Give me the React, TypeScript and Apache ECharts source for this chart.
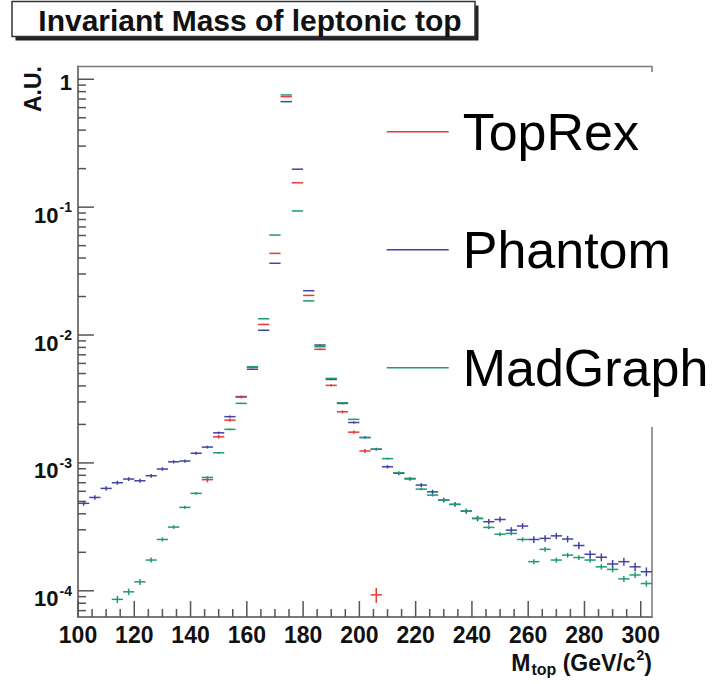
import React, { useEffect, useRef } from "react";
import * as echarts from "echarts";

// ---- data ----
const binCenters = [
  102, 106, 110, 114, 118, 122, 126, 130, 134, 138, 142, 146, 150, 154, 158, 162, 166,
  170, 174, 178, 182, 186, 190, 194, 198, 202, 206, 210, 214, 218, 222, 226, 230, 234,
  238, 242, 246, 250, 254, 258, 262, 266, 270, 274, 278, 282, 286, 290, 294, 298, 302,
];

const topRex: (number | null)[] = [
  null, null, null, null, null, null, null, null, null, null, null,
  7.4e-4, 1.6e-3, 2.16e-3, 3.27e-3, 5.6e-3, 1.21e-2, 4.35e-2, 0.731, 0.155,
  2.04e-2, 7.73e-3, 4.04e-3, 2.51e-3, 1.74e-3, 1.24e-3, 9.3e-5,
  null, null, null, null, null, null, null, null, null, null, null, null,
  null, null, null, null, null, null, null, null, null, null, null, null,
];

const phantom: (number | null)[] = [
  4.83e-4, 5.37e-4, 6.32e-4, 7.0e-4, 7.48e-4, 7.25e-4, 7.94e-4, 8.96e-4, 1.02e-3, 1.035e-3,
  1.19e-3, 1.33e-3, 1.72e-3, 2.3e-3, 3.3e-3, 5.4e-3, 1.09e-2, 3.64e-2, 0.668, 0.198,
  2.22e-2, 8.35e-3, 4.5e-3, 2.92e-3, 2.07e-3, 1.58e-3, 1.28e-3, 9.33e-4, 8.3e-4, 7.5e-4,
  6.71e-4, 5.94e-4, 5.12e-4, 4.74e-4, 4.2e-4, 3.68e-4, 3.47e-4, 3.61e-4, 2.98e-4, 3.21e-4,
  2.52e-4, 2.57e-4, 2.69e-4, 2.54e-4, 2.26e-4, 1.93e-4, 1.83e-4, 1.62e-4, 1.69e-4, 1.54e-4,
  1.41e-4,
];

const madGraph: (number | null)[] = [
  null, null, null, 8.57e-5, 9.82e-5, 1.175e-4, 1.74e-4, 2.52e-4, 3.15e-4, 4.49e-4,
  5.78e-4, 7.7e-4, 1.2e-3, 1.83e-3, 2.92e-3, 5.65e-3, 1.34e-2, 6.05e-2, 0.754, 9.33e-2,
  1.85e-2, 8.1e-3, 4.58e-3, 2.95e-3, 2.19e-3, 1.58e-3, 1.28e-3, 1.08e-3, 8.37e-4, 7.57e-4,
  6.24e-4, 5.6e-4, 5.12e-4, 4.74e-4, 4.2e-4, 3.68e-4, 3.13e-4, 2.77e-4, 2.81e-4, 2.52e-4,
  1.69e-4, 2.11e-4, 1.74e-4, 1.9e-4, 1.82e-4, 1.74e-4, 1.54e-4, 1.47e-4, 1.24e-4, 1.33e-4,
  1.14e-4,
];

const xTickLabels = [100, 120, 140, 160, 180, 200, 220, 240, 260, 280, 300];
const yDecades = [1e-4, 1e-3, 1e-2, 1e-1, 1];
const seriesNames = ["TopRex", "Phantom", "MadGraph"];

// ---- styling constants ----
const FONT = "'Liberation Sans', Arial, Helvetica, sans-serif";
const X_MIN = 100;
const X_MAX = 304;
const Y_MIN = 6.24e-5;
const Y_MAX = 1.258;
const BIN_HALF = 2;
const COLORS = { TopRex: "#e63b3b", Phantom: "#4343a6", MadGraph: "#1f9c6c" };
const STAT = { TopRex: 1.7e-6, Phantom: 9e-7, MadGraph: 3.5e-7 };
const AXIS_COLOR = "#7a7a7a";

function buildPoints(values: (number | null)[], k: number) {
  const out: number[][] = [];
  values.forEach((v, i) => {
    if (v != null) out.push([binCenters[i], v, Math.sqrt(v * k)]);
  });
  return out;
}

function buildTicks() {
  const t: number[][] = [];
  // x ticks: [x, y, length, kind 0]
  for (let v = X_MIN; v <= 300; v += 5) {
    t.push([v, Y_MIN, v % 20 === 0 ? 16 : 8, 0]);
  }
  // y ticks: [x, y, length, kind 1]
  for (let n = -5; n <= 0; n++) {
    for (let m = 1; m <= 9; m++) {
      const v = m * Math.pow(10, n);
      if (v >= Y_MIN && v <= Y_MAX) t.push([X_MIN, v, m === 1 ? 16 : 8, 1]);
    }
  }
  return t;
}

const renderCross = (params: any, api: any) => {
  const x = api.value(0);
  const y = api.value(1);
  const e = api.value(2);
  const c = api.coord([x, y]);
  const l = api.coord([x - BIN_HALF, y]);
  const r = api.coord([x + BIN_HALF, y]);
  const t = api.coord([x, y + e]);
  const b = api.coord([x, Math.max(y - e, 1e-9)]);
  const color = api.visual("color");
  return {
    type: "group",
    children: [
      { type: "line", shape: { x1: l[0], y1: c[1], x2: r[0], y2: c[1] }, style: { stroke: color, lineWidth: 1.5 } },
      { type: "line", shape: { x1: c[0], y1: t[1], x2: c[0], y2: b[1] }, style: { stroke: color, lineWidth: 1.5 } },
    ],
  };
};

const renderTick = (params: any, api: any) => {
  const p = api.coord([api.value(0), api.value(1)]);
  const len = api.value(2);
  const kind = api.value(3);
  const shape =
    kind === 0
      ? { x1: p[0], y1: p[1], x2: p[0], y2: p[1] - len }
      : { x1: p[0], y1: p[1], x2: p[0] + len, y2: p[1] };
  return { type: "line", shape, style: { stroke: "#555", lineWidth: 1.5 } };
};

export default function App() {
  const ref = useRef<HTMLDivElement>(null);

  useEffect(() => {
    document.body.style.margin = "0";
    if (!ref.current) return;
    const chart = echarts.init(ref.current, undefined, { renderer: "svg" });

    const mk = (name: "TopRex" | "Phantom" | "MadGraph", values: (number | null)[]) => ({
      name,
      type: "custom",
      renderItem: renderCross,
      data: buildPoints(values, STAT[name]),
      encode: { x: 0, y: 1 },
      itemStyle: { color: COLORS[name] },
      z: 3,
    });

    chart.setOption({
      animation: false,
      backgroundColor: "#fff",
      grid: {
        left: 78,
        top: 66.5,
        width: 574,
        height: 550.5,
        show: true,
        borderColor: AXIS_COLOR,
        borderWidth: 1.5,
        backgroundColor: "transparent",
      },
      xAxis: {
        type: "value",
        min: X_MIN,
        max: X_MAX,
        interval: 20,
        axisLine: { lineStyle: { color: AXIS_COLOR, width: 2 } },
        axisTick: { show: false },
        splitLine: { show: false },
        axisLabel: {
          formatter: (v: number) => (xTickLabels.includes(v) ? String(v) : ""),
          fontSize: 23,
          fontWeight: "bold",
          fontFamily: FONT,
          color: "#111",
          margin: 6,
        },
      },
      yAxis: {
        type: "log",
        logBase: 10,
        min: Y_MIN,
        max: Y_MAX,
        axisLine: { lineStyle: { color: AXIS_COLOR, width: 2 } },
        axisTick: { show: false },
        splitLine: { show: false },
        axisLabel: {
          margin: 6,
          formatter: (v: number) => {
            const hit = yDecades.find((d) => Math.abs(Math.log10(v) - Math.log10(d)) < 1e-6);
            if (hit === undefined) return "";
            const n = Math.round(Math.log10(hit));
            if (n === 0) return "{one|1}";
            return `{b|10}{s|${n}}`;
          },
          rich: {
            one: { fontSize: 22, fontWeight: "bold", fontFamily: FONT, color: "#111", padding: [6, 0, 0, 0] },
            b: { fontSize: 22, fontWeight: "bold", fontFamily: FONT, color: "#111", padding: [16, 0, 0, 0] },
            s: { fontSize: 14, fontWeight: "bold", fontFamily: FONT, color: "#111", verticalAlign: "top", padding: [12, 0, 0, 1] },
          },
        },
      },
      legend: {
        data: seriesNames,
        orient: "vertical",
        left: 380,
        top: 72,
        padding: [33.7, 20, 33.3, 6.7],
        backgroundColor: "#fff",
        icon: "rect",
        itemWidth: 62,
        itemHeight: 1.5,
        itemGap: 66,
        selectedMode: false,
        textStyle: {
          fontSize: 52,
          lineHeight: 52,
          fontFamily: FONT,
          color: "#000",
          padding: [0, 0, 0, 9],
        },
      },
      graphic: [
        { type: "rect", shape: { x: 15.5, y: 5.5, width: 463, height: 35 }, style: { fill: "#222" }, z: 10 },
        {
          type: "rect",
          shape: { x: 12, y: 1.5, width: 463, height: 35 },
          style: { fill: "#fff", stroke: "#333", lineWidth: 1.5 },
          z: 11,
        },
        {
          type: "text",
          x: 250,
          y: 20.5,
          z: 12,
          style: {
            text: "Invariant Mass of leptonic top",
            fontSize: 30,
            fontWeight: "bold",
            fontFamily: FONT,
            fill: "#111",
            align: "center",
            verticalAlign: "middle",
          },
        },
        {
          type: "text",
          x: 33,
          y: 89,
          rotation: Math.PI / 2,
          z: 12,
          style: {
            text: "A.U.",
            fontSize: 23,
            fontWeight: "bold",
            fontFamily: FONT,
            fill: "#111",
            align: "center",
            verticalAlign: "middle",
          },
        },
        {
          type: "text",
          right: 61,
          top: 648,
          z: 12,
          style: {
            text: "{b|M}{sub|top}{b| (GeV/c}{sup|2}{b|)}",
            fill: "#111",
            rich: {
              b: { fontSize: 23, fontWeight: "bold", fontFamily: FONT, fill: "#111", padding: [4, 0, 0, 0] },
              sub: { fontSize: 16, fontWeight: "bold", fontFamily: FONT, fill: "#111", verticalAlign: "top", padding: [16, 0, 0, 1] },
              sup: { fontSize: 14, fontWeight: "bold", fontFamily: FONT, fill: "#111", verticalAlign: "top", padding: [3, 0, 0, 1] },
            },
          },
        },
      ],
      series: [
        {
          name: "ticks",
          type: "custom",
          renderItem: renderTick,
          data: buildTicks(),
          encode: { x: 0, y: 1 },
          silent: true,
          z: 2,
        },
        mk("Phantom", phantom),
        mk("TopRex", topRex),
        mk("MadGraph", madGraph),
      ],
    });

    return () => chart.dispose();
  }, []);

  return <div ref={ref} style={{ width: 713, height: 684 }} />;
}
